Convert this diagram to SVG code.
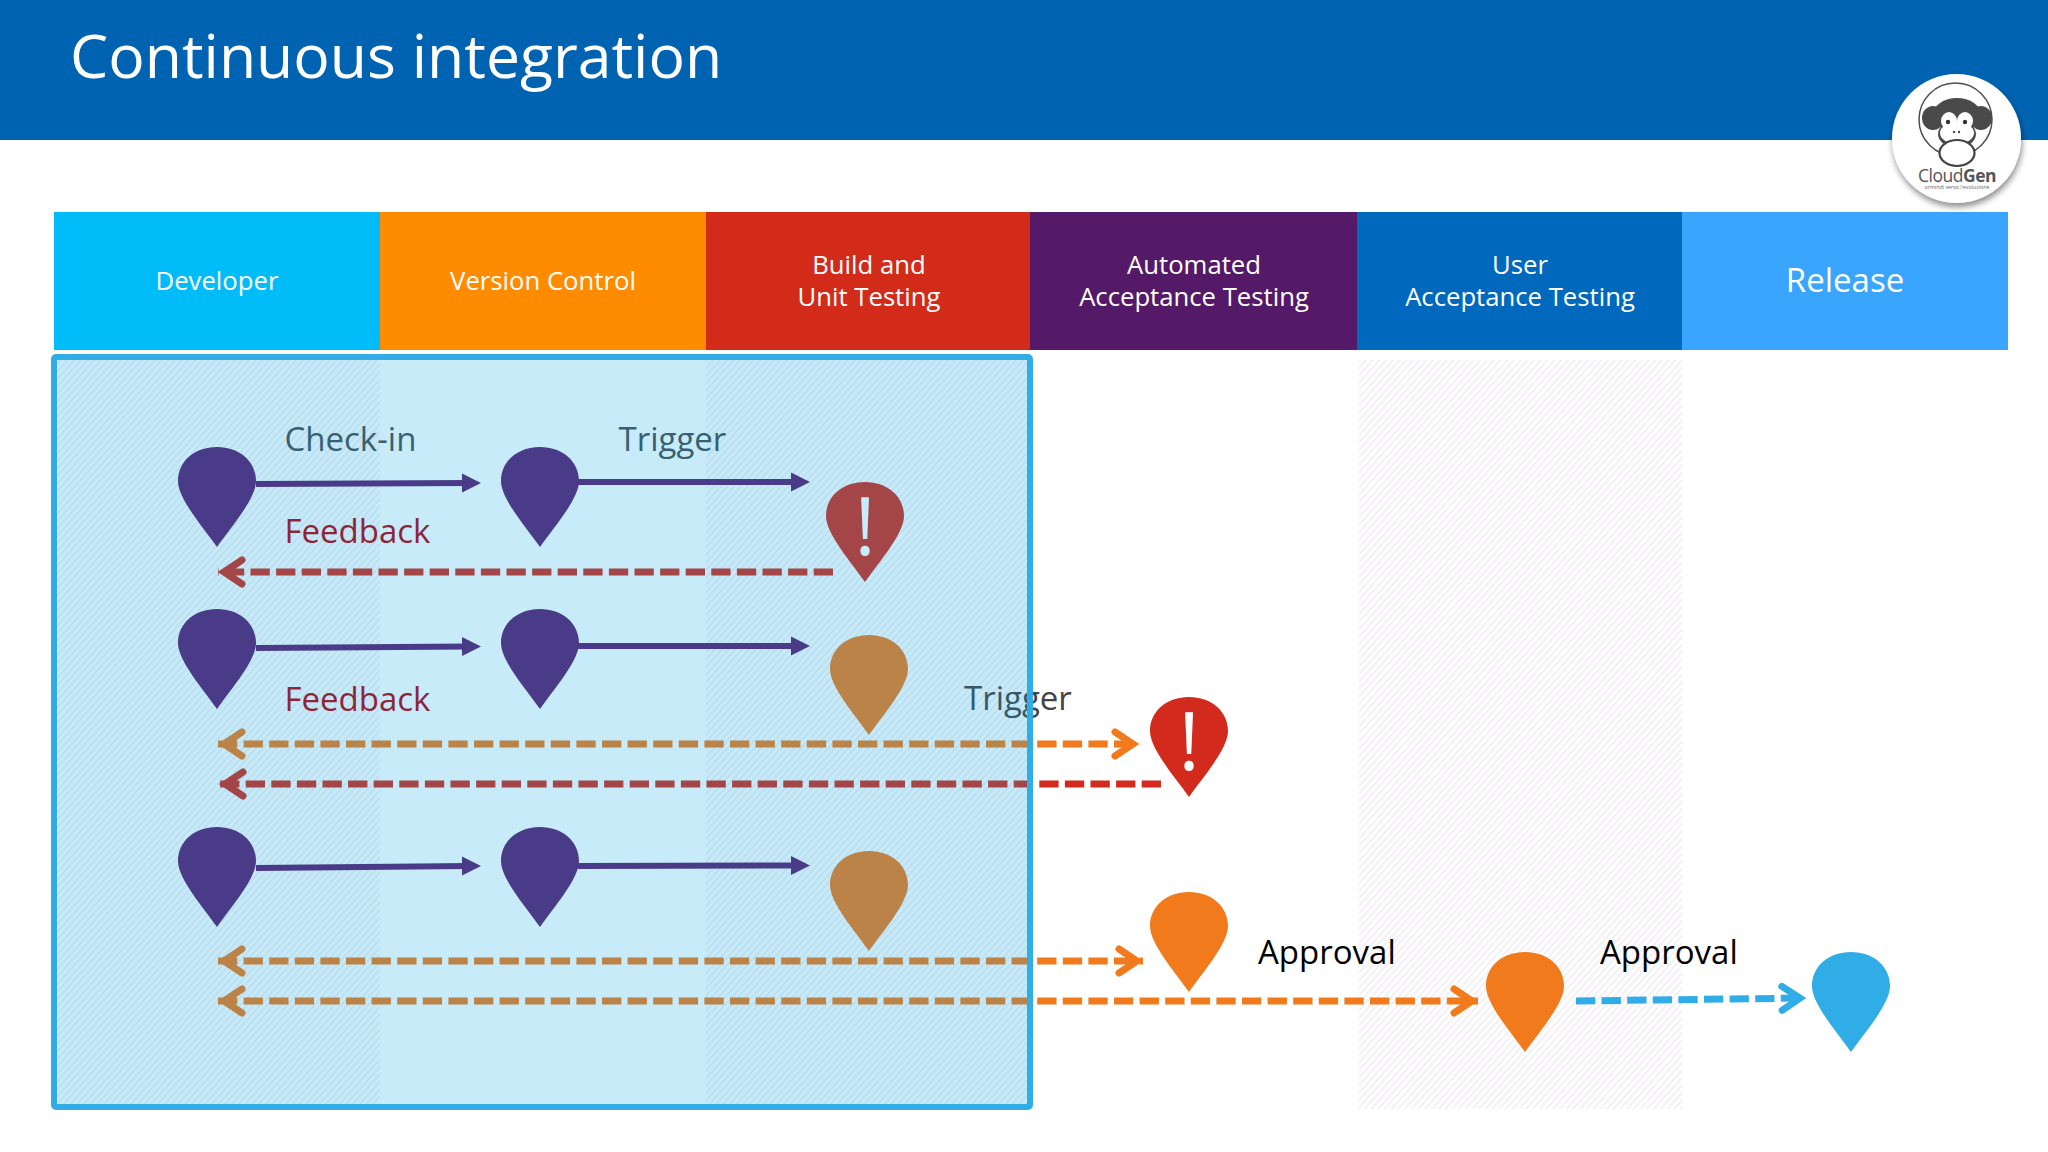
<svg xmlns="http://www.w3.org/2000/svg" width="2048" height="1152" viewBox="0 0 2048 1152">
<style>
text{font-family:"Open Sans","Noto Sans","Liberation Sans",sans-serif}
.h{fill:#fff;font-size:25.7px;text-anchor:middle}
.l{font-size:33px}
.dash{fill:none;stroke-width:7;stroke-dasharray:19.3 6.3}
.solid{fill:none;stroke:#5F1E70;stroke-width:6}
.ex{fill:#fff;font-size:80px;text-anchor:middle}
.purple{fill:#5F1E70}.orange{fill:#F07A1C}.red{fill:#D22B1D}.blue{fill:#30ADE6}
</style>
<defs>
<path id="pin" d="M0 100C-14 80-39 52-39 34C-39 14-22 0 0 0C22 0 39 14 39 34C39 52 14 80 0 100Z"/>
<pattern id="hatch" width="5" height="5" patternUnits="userSpaceOnUse" patternTransform="rotate(-48)">
<rect width="5" height="5" fill="#fff"/><rect width="5" height="2.2" fill="#F3F1F5"/>
</pattern>
<marker id="tri" markerUnits="userSpaceOnUse" markerWidth="20" markerHeight="20" refX="7" refY="10" orient="auto"><path d="M0 .5L19 10L0 19.5Z" fill="#5F1E70"/></marker>
<marker id="chO" markerUnits="userSpaceOnUse" markerWidth="36" markerHeight="36" refX="33" refY="18" orient="auto-start-reverse"><path d="M9 6L27 18L9 30" fill="none" stroke="#F07A1C" stroke-width="7" stroke-linecap="round"/></marker>
<marker id="chR" markerUnits="userSpaceOnUse" markerWidth="36" markerHeight="36" refX="33" refY="18" orient="auto-start-reverse"><path d="M9 6L27 18L9 30" fill="none" stroke="#D22B1D" stroke-width="7" stroke-linecap="round"/></marker>
<marker id="chB" markerUnits="userSpaceOnUse" markerWidth="36" markerHeight="36" refX="33" refY="18" orient="auto"><path d="M9 6L27 18L9 30" fill="none" stroke="#30ADE6" stroke-width="7" stroke-linecap="round"/></marker>
<filter id="sh" x="-20%" y="-20%" width="140%" height="140%"><feDropShadow dx="1" dy="4" stdDeviation="3" flood-color="#000" flood-opacity=".45"/></filter>
</defs>
<rect width="2048" height="1152" fill="#fff"/>
<rect id="header" width="2048" height="140" fill="#0063B1"/>
<text x="70" y="78" fill="#fff" font-size="60.7">Continuous integration</text>
<g id="columns">
<g id="col-developer"><rect x="54" y="212" width="326" height="138" fill="#00BCF8"/><text class="h" x="217" y="290">Developer</text></g>
<g id="col-version-control"><rect x="380" y="212" width="326" height="138" fill="#FF8C00"/><text class="h" x="543" y="290">Version Control</text></g>
<g id="col-build"><rect x="706" y="212" width="324" height="138" fill="#D32B1A"/><text class="h" x="869" y="274">Build and</text><text class="h" x="869" y="306">Unit Testing</text></g>
<g id="col-aat"><rect x="1030" y="212" width="327" height="138" fill="#551A67"/><text class="h" x="1194" y="274">Automated</text><text class="h" x="1194" y="306">Acceptance Testing</text></g>
<g id="col-uat"><rect x="1357" y="212" width="325" height="138" fill="#0069BD"/><text class="h" x="1520" y="274">User</text><text class="h" x="1520" y="306">Acceptance Testing</text></g>
<g id="col-release"><rect x="1682" y="212" width="326" height="138" fill="#39A5FF"/><text class="h" x="1845" y="292" style="font-size:33px">Release</text></g>
</g>
<g id="hatched-bands">
<rect x="57" y="360" width="323" height="749" fill="url(#hatch)"/>
<rect x="706" y="360" width="324" height="749" fill="url(#hatch)"/>
<rect x="1359" y="360" width="323" height="749" fill="url(#hatch)"/>
</g>
<g id="connectors">
<path class="solid" d="M256 484L469 483" marker-end="url(#tri)"/>
<path class="solid" d="M578 482L798 482" marker-end="url(#tri)"/>
<path class="solid" d="M256 648L469 646.5" marker-end="url(#tri)"/>
<path class="solid" d="M578 646L798 646" marker-end="url(#tri)"/>
<path class="solid" d="M256 868L469 866" marker-end="url(#tri)"/>
<path class="solid" d="M578 866L798 865.5" marker-end="url(#tri)"/>
<path class="dash" stroke="#D22B1D" d="M833 572L218 572" marker-end="url(#chR)"/>
<path class="dash" stroke="#F07A1C" d="M218 744L1139 744" marker-start="url(#chO)" marker-end="url(#chO)"/>
<path class="dash" stroke="#D22B1D" d="M1161 784L219 784" marker-end="url(#chR)"/>
<path class="dash" stroke="#F07A1C" d="M218 961L1143 961" marker-start="url(#chO)" marker-end="url(#chO)"/>
<path class="dash" stroke="#F07A1C" d="M218 1001L1478 1001" marker-start="url(#chO)" marker-end="url(#chO)"/>
<path class="dash" stroke="#30ADE6" d="M1576 1001L1806 998" marker-end="url(#chB)"/>
</g>
<g id="n1"><use href="#pin" x="217" y="447" class="purple"/></g>
<g id="n2"><use href="#pin" x="540" y="447" class="purple"/></g>
<g id="n3"><use href="#pin" x="865" y="482" class="red"/><text class="ex" x="865" y="555">!</text></g>
<g id="n4"><use href="#pin" x="217" y="609" class="purple"/></g>
<g id="n5"><use href="#pin" x="540" y="609" class="purple"/></g>
<g id="n6"><use href="#pin" x="869" y="635" class="orange"/></g>
<g id="n7"><use href="#pin" x="1189" y="697" class="red"/><text class="ex" x="1189" y="770">!</text></g>
<g id="n8"><use href="#pin" x="217" y="827" class="purple"/></g>
<g id="n9"><use href="#pin" x="540" y="827" class="purple"/></g>
<g id="n10"><use href="#pin" x="869" y="851" class="orange"/></g>
<g id="n11"><use href="#pin" x="1189" y="892" class="orange"/></g>
<g id="n12"><use href="#pin" x="1525" y="952" class="orange"/></g>
<g id="n13"><use href="#pin" x="1851" y="952" class="blue"/></g>
<g id="labels">
<text class="l" x="284.5" y="451" fill="#484E50">Check-in</text>
<text class="l" x="618.5" y="451" fill="#484E50">Trigger</text>
<text class="l" x="284.5" y="543" fill="#B80008">Feedback</text>
<text class="l" x="284.5" y="711" fill="#B80008">Feedback</text>
<text class="l" x="964" y="710" fill="#444">Trigger</text>
<text class="l" x="1258" y="964" fill="#000">Approval</text>
<text class="l" x="1600" y="964" fill="#000">Approval</text>
</g>
<rect id="frame" x="54" y="357" width="976" height="750" rx="2" fill="#00A5E2" fill-opacity=".22" stroke="#30ADE6" stroke-width="6"/>
<g id="logo">
<circle cx="1956.5" cy="138.5" r="64.5" fill="#fff" filter="url(#sh)"/>
<circle cx="1955.5" cy="119.5" r="36.5" fill="none" stroke="#4d4d4d" stroke-width="1.5"/>
<ellipse cx="1933" cy="118" rx="11" ry="12" fill="#4a4a4a"/>
<ellipse cx="1981" cy="118" rx="11" ry="12" fill="#4a4a4a"/>
<ellipse cx="1957" cy="115" rx="24" ry="17" fill="#4a4a4a"/>
<ellipse cx="1957" cy="134" rx="19" ry="14" fill="#4a4a4a"/>
<ellipse cx="1949" cy="121" rx="8" ry="9" fill="#fff"/><ellipse cx="1965" cy="121" rx="8" ry="9" fill="#fff"/>
<ellipse cx="1957" cy="133" rx="17" ry="11" fill="#fff"/>
<circle cx="1948" cy="122" r="2.2" fill="#333"/><circle cx="1965" cy="122" r="2.2" fill="#333"/>
<circle cx="1954" cy="132" r="1.2" fill="#444"/><circle cx="1959" cy="132" r="1.2" fill="#444"/>
<ellipse cx="1957" cy="153" rx="17.5" ry="13" fill="#fff" stroke="#444" stroke-width="2.2"/>
<text x="1957" y="182" text-anchor="middle" font-size="17.5" fill="#555" style="letter-spacing:-.5px">Cloud<tspan font-weight="700">Gen</tspan></text>
<text x="1957" y="189" text-anchor="middle" font-size="5.3" fill="#666">ormindi verso l'evoluzione</text>
</g>
</svg>
